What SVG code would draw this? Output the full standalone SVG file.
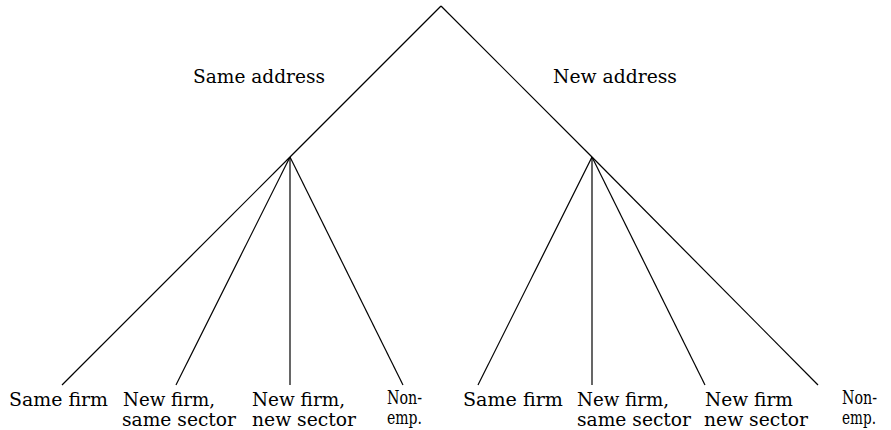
<svg xmlns="http://www.w3.org/2000/svg" width="891" height="430" viewBox="0 0 891 430">
<style>
text { font-size: 18px; fill: #000; }
.edge { stroke: #000; stroke-width: 1.2; fill: none; }
</style>
<rect width="891" height="430" fill="#fff"/>
<g id="connectors">
<line class="edge" x1="441" y1="6" x2="290" y2="157"/>
<line class="edge" x1="441" y1="6" x2="592" y2="157"/>
<line class="edge" x1="290" y1="157" x2="62" y2="385"/>
<line class="edge" x1="290" y1="157" x2="176" y2="385"/>
<line class="edge" x1="290" y1="157" x2="290" y2="385"/>
<line class="edge" x1="290" y1="157" x2="403" y2="385"/>
<line class="edge" x1="592" y1="157" x2="478" y2="385"/>
<line class="edge" x1="592" y1="157" x2="592" y2="385"/>
<line class="edge" x1="592" y1="157" x2="705" y2="385"/>
<line class="edge" x1="592" y1="157" x2="818" y2="385"/>
</g>
<g font-family="'DejaVu Serif', 'Liberation Serif', serif">
<g id="edge-labels">
<text x="193" y="83" textLength="132" lengthAdjust="spacingAndGlyphs">Same address</text>
<text x="553" y="83" textLength="124" lengthAdjust="spacingAndGlyphs">New address</text>
</g>
<g id="leaf-same-firm-1"><text x="9" y="406" textLength="99" lengthAdjust="spacingAndGlyphs">Same firm</text></g>
<g id="leaf-new-firm-same-sector-1">
<text x="123" y="406" textLength="92" lengthAdjust="spacingAndGlyphs">New firm,</text>
<text x="122" y="426" textLength="114" lengthAdjust="spacingAndGlyphs">same sector</text>
</g>
<g id="leaf-new-firm-new-sector-1">
<text x="252" y="406" textLength="93" lengthAdjust="spacingAndGlyphs">New firm,</text>
<text x="252" y="426" textLength="104" lengthAdjust="spacingAndGlyphs">new sector</text>
</g>
<g id="leaf-non-emp-1">
<text x="387" y="404" textLength="35" lengthAdjust="spacingAndGlyphs">Non-</text>
<text x="387" y="424" textLength="35" lengthAdjust="spacingAndGlyphs">emp.</text>
</g>
<g id="leaf-same-firm-2"><text x="463" y="406" textLength="100" lengthAdjust="spacingAndGlyphs">Same firm</text></g>
<g id="leaf-new-firm-same-sector-2">
<text x="577" y="406" textLength="92" lengthAdjust="spacingAndGlyphs">New firm,</text>
<text x="577" y="426" textLength="114" lengthAdjust="spacingAndGlyphs">same sector</text>
</g>
<g id="leaf-new-firm-new-sector-2">
<text x="705" y="406" textLength="88" lengthAdjust="spacingAndGlyphs">New firm</text>
<text x="704" y="426" textLength="104" lengthAdjust="spacingAndGlyphs">new sector</text>
</g>
<g id="leaf-non-emp-2">
<text x="842" y="404" textLength="35" lengthAdjust="spacingAndGlyphs">Non-</text>
<text x="842" y="424" textLength="34" lengthAdjust="spacingAndGlyphs">emp.</text>
</g>
</g>
</svg>
